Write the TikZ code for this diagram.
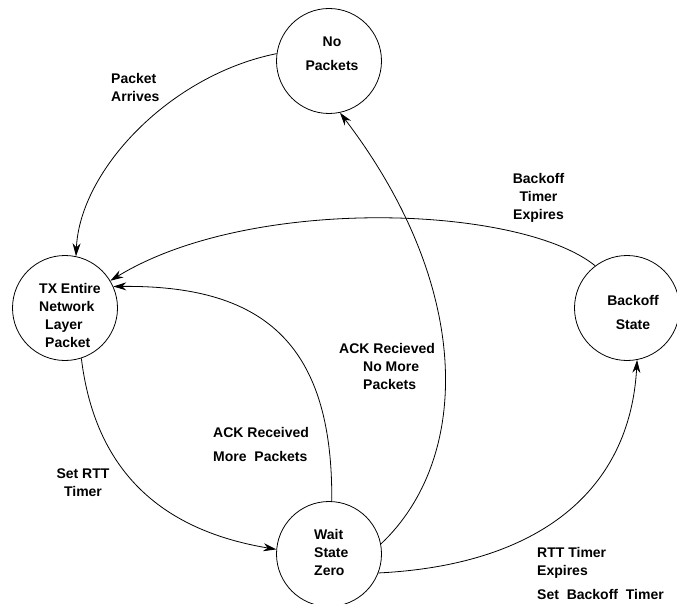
\documentclass[tikz,border=0pt]{standalone}
\usepackage{fontspec}
\setmainfont{Liberation Sans}
\usetikzlibrary{arrows.meta}
\tikzset{
  state/.style={draw, circle, minimum size=105pt, inner sep=0pt, line width=0.8pt},
  lbl/.style={font=\fontsize{14}{18}\selectfont\bfseries, inner sep=0pt},
  edge/.style={line width=0.8pt, -{Stealth[length=13pt,width=8pt]}}
}
\begin{document}
\begin{tikzpicture}[x=1pt,y=-1pt]
\useasboundingbox (0,0) rectangle (677,604);
% states
\node[state] (np) at (329,61) {};
\node[state] (tx) at (65,308) {};
\node[state] (bo) at (627,308) {};
\node[state] (ws) at (329,554) {};
% state texts
\node[lbl, align=center] (nptext) at (332,54) {No\\[6pt]Packets};
\node[lbl, align=left, anchor=west] (txtext) at (39,315) {TX Entire\\Network\\\hspace*{6pt}Layer\\\hspace*{6pt}Packet};
\node[lbl, align=center] (botext) at (633,312) {Backoff\\[6pt]State};
\node[lbl, align=left, anchor=west] (wstext) at (314,552) {Wait\\State\\Zero};
% edge labels
\node[lbl, align=left, anchor=west] (l1) at (111,87) {Packet\\Arrives};
\node[lbl, align=center] (l2) at (538.5,198) {Backoff\\Timer\\Expires};
\node[lbl, align=left, anchor=west] (l3) at (339,366) {ACK Recieved\\\hspace*{24pt}No More\\\hspace*{24pt}Packets};
\node[lbl, align=left, anchor=west] (l4) at (213,444) {ACK Received\\[6pt]More~ Packets};
\node[lbl, align=center] (l5) at (83,483) {Set RTT\\Timer};
\node[lbl, align=left, anchor=west] (l6) at (537,573) {RTT Timer\\Expires\\[6pt]Set~ Backoff~ Timer};
% transitions
\draw[edge] (np.172.5) .. controls (170,75) and (80,170) .. (tx.78.6);
\draw[edge] (bo.127.3) .. controls (520,205) and (250,195) .. (tx.31.3);
\draw[edge] (ws.87) .. controls (333,340) and (260,285) .. (tx.24.5);
\draw[edge] (tx.288) .. controls (95,470) and (160,530) .. (ws.175.7);
\draw[edge] (ws.11.8) .. controls (470,460) and (475,290) .. (np.282);
\draw[edge] (ws.339) .. controls (540,565) and (630,490) .. (bo.281);
\end{tikzpicture}
\end{document}
